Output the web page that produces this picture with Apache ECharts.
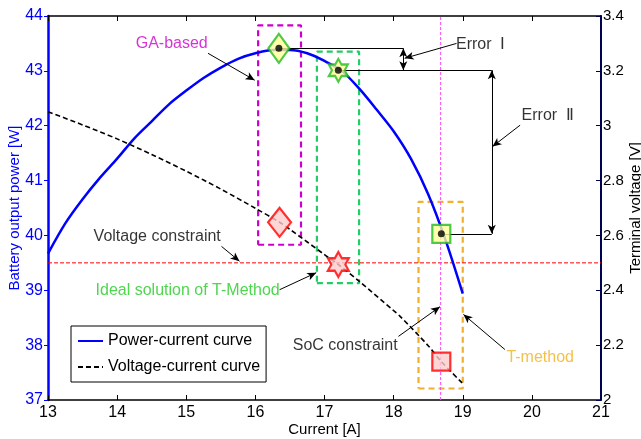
<!DOCTYPE html>
<html><head><meta charset="utf-8">
<script src="https://cdn.jsdelivr.net/npm/echarts@6/dist/echarts.min.js"></script>
<style>html,body{margin:0;padding:0;background:#fff}#c{width:641px;height:439px}</style>
</head><body><div id="c"></div>
<script>
// ---------- data ----------
const powerCurrent = [13.0,13.25,13.5,13.75,14.0,14.25,14.5,14.75,15.0,15.25,15.5,15.75,16.0,16.25,16.5,16.75,17.0,17.25,17.5,17.75,18.0,18.25,18.5,18.75,19.0];
const powerValues  = [39.67,40.22,40.66,41.05,41.40,41.77,42.08,42.39,42.64,42.87,43.06,43.22,43.32,43.38,43.38,43.32,43.18,43.00,42.68,42.30,41.90,41.40,40.75,39.92,38.94];
const voltCurrent  = [13.0,13.5,14.0,14.5,15.0,15.5,16.0,16.35,16.5,17.0,17.2,17.5,18.0,18.09,18.5,18.69,19.0];
const voltValues   = [3.051,3.003,2.952,2.895,2.834,2.769,2.699,2.648,2.622,2.530,2.494,2.433,2.326,2.306,2.198,2.140,2.060];
const xTicks = [13,14,15,16,17,18,19,20,21];
const voltageLimit = 2.5;      // V
const socLimitCurrent = 18.68; // A
// solutions
const gaPower    = [16.34, 43.41];
const idealPower = [17.20, 43.01];
const tPower     = [18.69, 40.03];
const gaVolt     = [16.35, 2.648];
const idealVolt  = [17.20, 2.494];
const tVolt      = [18.69, 2.140];
// boxes [xmin, xmax, ymin, ymax] in power units
const gaBox    = [16.04, 16.66, 39.83, 43.83];
const idealBox = [16.89, 17.50, 39.13, 43.35];
const tBox     = [18.36, 19.00, 37.21, 40.61];
// error bar positions
const errorIx  = 18.14;
const errorIIx = 19.42;

// ---------- chart ----------
const FONT = 'Liberation Sans, Arial, sans-serif';
const chart = echarts.init(document.getElementById('c'), null, {renderer:'canvas'});
const star6 = 'path://M0,-10 L2.89,-5 L8.66,-5 L5.77,0 L8.66,5 L2.89,5 L0,10 L-2.89,5 L-8.66,5 L-5.77,0 L-8.66,-5 L-2.89,-5 Z';

function boxSeries(b, color){
  return {type:'line', yAxisIndex:0, symbol:'none', silent:true, animation:false, z:1,
    lineStyle:{color:color, width:2.2, type:[6,4]},
    data:[[b[0],b[2]],[b[1],b[2]],[b[1],b[3]],[b[0],b[3]],[b[0],b[2]]]};
}
function seg(p1, p2, s1, s2){
  return [{coord:p1, symbol:s1}, {coord:p2, symbol:s2}];
}

const labels = [
  {name:'GA-based', value:[14.79,43.50], color:'#cc00cc'},
  {name:'Voltage constraint', value:[14.58,39.97], color:'#000'},
  {name:'Ideal solution of T-Method', value:[15.02,38.99], color:'#22cc22'},
  {name:'SoC constraint', value:[17.30,38.00], color:'#000'},
  {name:'T-method', value:[20.12,37.77], color:'#f0b020'},
  {name:'Error  Ⅰ', value:[19.26,43.47], color:'#000'},
  {name:'Error  Ⅱ', value:[20.23,42.19], color:'#000'}
];

const option = {
  animation:false,
  backgroundColor:'#fff',
  textStyle:{fontFamily:FONT},
  grid:{left:48, right:40, top:16, bottom:39, containLabel:false, outerBoundsMode:'none'},
  legend:{
    data:['Power-current curve','Voltage-current curve'],
    orient:'vertical', left:71, top:326, padding:[6,6,6,6], itemGap:8,
    itemWidth:25, itemHeight:14, backgroundColor:'#fff', borderColor:'#000', borderWidth:1,
    itemStyle:{opacity:0},
    textStyle:{fontSize:16, lineHeight:18, color:'#000', fontFamily:FONT}
  },
  xAxis:[
    {type:'value', min:13, max:21, interval:1, position:'bottom',
     name:'Current [A]', nameLocation:'middle', nameGap:22, nameMoveOverlap:false,
     nameTextStyle:{fontSize:15, color:'#000', fontFamily:FONT},
     axisLine:{lineStyle:{color:'#000', width:1.5}},
     axisTick:{inside:true, length:5, lineStyle:{color:'#000'}},
     axisLabel:{fontSize:16, color:'#000', margin:5, fontFamily:FONT},
     splitLine:{show:false}},
    {type:'value', min:13, max:21, interval:1, position:'top',
     axisLine:{lineStyle:{color:'#000', width:1.5}},
     axisTick:{inside:true, length:5, lineStyle:{color:'#000'}},
     axisLabel:{show:false}, splitLine:{show:false}}
  ],
  yAxis:[
    {type:'value', min:37, max:44, interval:1, position:'left',
     name:'Battery output power [W]', nameLocation:'middle', nameGap:26, nameMoveOverlap:false,
     nameTextStyle:{fontSize:15, color:'#0000ff', fontFamily:FONT},
     axisLine:{show:true, lineStyle:{color:'#0000ff', width:2.5}},
     axisTick:{show:true, inside:false, length:4, lineStyle:{color:'#0000ff'}},
     axisLabel:{fontSize:16, color:'#0000ff', margin:5, fontFamily:FONT},
     splitLine:{show:false}},
    {type:'value', min:2, max:3.4, interval:0.2, position:'right',
     name:'Terminal voltage [V]', nameLocation:'middle', nameGap:27, nameMoveOverlap:false,
     nameTextStyle:{fontSize:15, color:'#000', fontFamily:FONT},
     axisLine:{show:true, lineStyle:{color:'#000050', width:2}},
     axisTick:{show:true, inside:true, length:5, lineStyle:{color:'#000050'}},
     axisLabel:{fontSize:15, color:'#000', margin:2, fontFamily:FONT,
       formatter:v=>String(Math.round(v*10)/10)},
     splitLine:{show:false}}
  ],
  series:[
    boxSeries(gaBox, '#cc00cc'),
    boxSeries(idealBox, '#22cc66'),
    boxSeries(tBox, '#f0b030'),
    {type:'line', name:'Voltage constraint line', yAxisIndex:1, symbol:'none', silent:true, z:2,
     lineStyle:{color:'#ff0000', width:1, type:[4,2]},
     data:[[13,voltageLimit],[21,voltageLimit]]},
    {type:'line', name:'SoC constraint line', yAxisIndex:0, symbol:'none', silent:true, z:2,
     lineStyle:{color:'#ff44ff', width:1, type:[3,2]},
     data:[[socLimitCurrent,37],[socLimitCurrent,44]]},
    {type:'line', name:'Power-current curve', yAxisIndex:0, symbol:'none', smooth:0.3, z:3,
     lineStyle:{color:'#0000ff', width:2.5}, itemStyle:{color:'#0000ff'},
     data:powerCurrent.map((x,i)=>[x,powerValues[i]])},
    {type:'line', name:'Voltage-current curve', yAxisIndex:1, symbol:'none', smooth:0.3, z:3,
     lineStyle:{color:'#000', width:1.6, type:[5,3]}, itemStyle:{color:'#000'},
     data:voltCurrent.map((x,i)=>[x,voltValues[i]])},
    // error bars & annotation arrows
    {type:'line', yAxisIndex:0, data:[], silent:true, z:4,
     markLine:{silent:true, animation:false, label:{show:false}, symbolSize:[6,9],
       lineStyle:{color:'#000', width:1, type:'solid'},
       emphasis:{disabled:true},
       data:[
         seg(gaPower, [errorIx, gaPower[1]], 'none','none'),
         seg(idealPower, [errorIIx, idealPower[1]], 'none','none'),
         seg(tPower, [errorIIx, tPower[1]], 'none','none'),
         seg([errorIx, gaPower[1]], [errorIx, idealPower[1]], 'arrow','arrow'),
         seg([errorIIx, idealPower[1]], [errorIIx, tPower[1]], 'arrow','arrow'),
         seg([15.315,43.32],[15.99,42.83],'none','arrow'),
         seg([15.51,39.80],[15.77,39.53],'none','arrow'),
         seg([16.35,39.01],[16.88,39.32],'none','arrow'),
         seg([18.07,38.16],[18.67,38.70],'none','arrow'),
         seg([19.61,37.92],[19.01,38.56],'none','arrow'),
         seg([18.91,43.50],[18.16,43.23],'none','arrow'),
         seg([19.83,42.01],[19.43,41.62],'none','arrow')
       ]}},
    // solution markers (power)
    {type:'scatter', yAxisIndex:0, z:6, silent:true,
     data:[
       {value:gaPower, symbol:'diamond', symbolSize:[21,29]},
       {value:idealPower, symbol:star6, symbolSize:[19,23]},
       {value:tPower, symbol:'rect', symbolSize:[18,18]}
     ],
     itemStyle:{color:'#ffff99', borderColor:'#22bb22', borderWidth:2.2}},
    {type:'scatter', yAxisIndex:0, z:7, silent:true, symbol:'circle', symbolSize:7,
     itemStyle:{color:'#000'}, data:[gaPower, idealPower, tPower]},
    // solution markers (voltage)
    {type:'scatter', yAxisIndex:1, z:6, silent:true,
     data:[
       {value:gaVolt, symbol:'diamond', symbolSize:[23,29]},
       {value:idealVolt, symbol:star6, symbolSize:[21,25]},
       {value:tVolt, symbol:'rect', symbolSize:[18,18]}
     ],
     itemStyle:{color:'#ffcccc', borderColor:'#ff0000', borderWidth:2.2}},
    // text annotations
    {type:'scatter', yAxisIndex:0, z:8, silent:true, symbolSize:0,
     data:labels.map(l=>({name:l.name, value:l.value, label:{color:l.color}})),
     label:{show:true, position:'inside', formatter:'{b}', fontSize:16, fontFamily:FONT}}
  ]
};
chart.setOption(option);
</script>
</body></html>
